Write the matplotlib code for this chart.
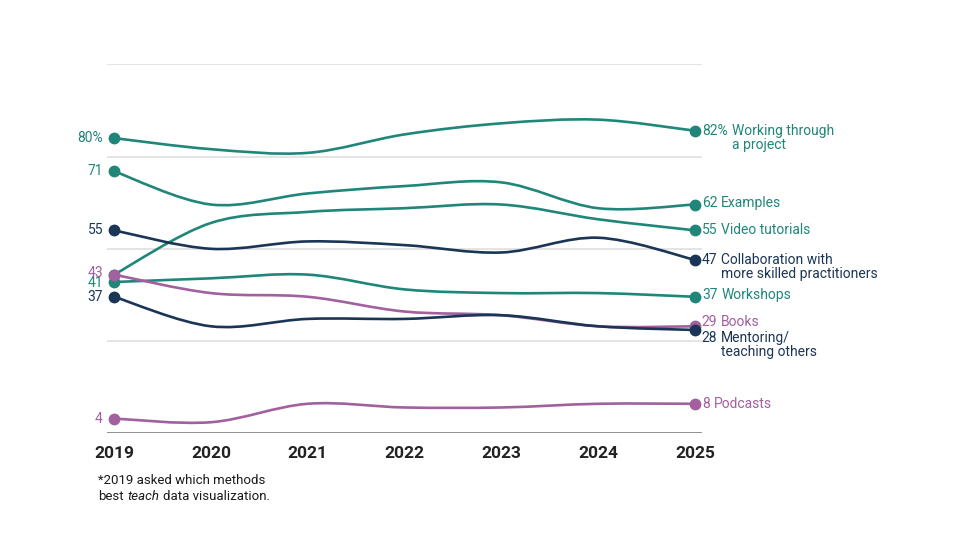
import numpy as np
import matplotlib.pyplot as plt
from matplotlib.path import Path
from matplotlib.patches import PathPatch

plt.rcParams['font.family'] = ['Roboto', 'DejaVu Sans']

years = [2019, 2020, 2021, 2022, 2023, 2024, 2025]

# share of respondents (%) per year
working = [80, 77, 76, 81, 84, 85, 82]
examples = [71, 62, 65, 67, 68, 61, 62]
video = [43, 57, 60, 61, 62, 58, 55]
collab = [55, 50, 52, 51, 49, 53, 47]
workshops = [41, 42, 43, 39, 38, 38, 37]
books = [43, 38, 37, 33, 32, 29, 29]
mentoring = [37, 29, 31, 31, 32, 29, 28]
podcasts = [4, 3, 8, 7, 7, 8, 8]

TEAL = '#21867a'
NAVY = '#1b3556'
PINK = '#a2609f'

# values, label, colour, left label shift (pt, None = no label), right label shift (pt)
series = [
    (working, 'Working through\na project', TEAL, 0, 0),
    (examples, 'Examples', TEAL, 0, 1),
    (video, 'Video tutorials', TEAL, None, 0),
    (workshops, 'Workshops', TEAL, -0.5, 1),
    (podcasts, 'Podcasts', PINK, 0, 0),
    (books, 'Books', PINK, 1, 3),
    (collab, 'Collaboration with\nmore skilled practitioners', NAVY, 0, 0),
    (mentoring, 'Mentoring/\nteaching others', NAVY, 0, -5.5),
]


def smooth_path(xs, ys):
    # Catmull-Rom curve through the yearly points, as cubic Bezier segments
    p = np.column_stack([xs, ys]).astype(float)
    pad = np.vstack([p[0], p, p[-1]])
    verts = [p[0]]
    codes = [Path.MOVETO]
    for i in range(len(p) - 1):
        p0, p1, p2, p3 = pad[i], pad[i + 1], pad[i + 2], pad[i + 3]
        verts += [p1 + (p2 - p0) / 6, p2 - (p3 - p1) / 6, p2]
        codes += [Path.CURVE4] * 3
    return Path(verts, codes)


fig = plt.figure(figsize=(9.6, 5.4), dpi=100)
ax = fig.add_axes([107.3 / 960, 1 - 433.3 / 540, (701.7 - 107.3) / 960, (433.3 - 64.3) / 540])
ax.set_xlim(2018.93, 2025.07)
ax.set_ylim(0, 100)

ax.set_yticks([0, 25, 50, 75, 100])
ax.set_yticklabels([])
ax.tick_params(axis='y', length=0)
ax.yaxis.grid(True, color='#dcdcdc', lw=1.1)
ax.set_axisbelow(True)
ax.axhline(0, color='#8a8a8a', lw=1.3, zorder=1)
for s in ax.spines.values():
    s.set_visible(False)

ax.set_xticks(years)
ax.set_xticklabels([str(y) for y in years], fontweight='bold', color='#222222')
ax.tick_params(axis='x', length=0, pad=9, labelsize=12.5)

fs = 10
for k, (vals, name, c, left, dy) in enumerate(series):
    z = 3 + k * 0.1
    ax.add_patch(PathPatch(smooth_path(years, vals), fill=False, edgecolor=c,
                           lw=1.9, capstyle='round', joinstyle='round', zorder=z))
    ax.plot([years[0], years[-1]], [vals[0], vals[-1]], 'o', color=c, ms=8.5,
            mew=0, zorder=z + 0.05)
    first = k == 0
    if left is not None:
        ax.annotate(f"{vals[0]}%" if first else f"{vals[0]}", xy=(years[0], vals[0]),
                    xytext=(-8, left), textcoords='offset points', ha='right', va='center',
                    color=c, fontsize=fs)
    num = ax.annotate(f"{vals[-1]}%" if first else f"{vals[-1]}", xy=(years[-1], vals[-1]),
                      xytext=(5, dy), textcoords='offset points', ha='left', va='center',
                      color=c, fontsize=fs)
    ax.annotate(name, xy=(1, 1), xycoords=num, xytext=(2.8, 0), textcoords='offset points',
                ha='left', va='top', color=c, fontsize=fs, linespacing=1.0)

note_c = '#1a1a1a'
fig.text(98 / 960, 1 - 481 / 540, '*2019 asked which methods', ha='left', va='center',
         fontsize=9.5, color=note_c)
t1 = fig.text(98 / 960, 1 - 497 / 540, 'best', ha='left', va='center', fontsize=9.5, color=note_c)
t2 = ax.annotate('teach', xy=(1, 0), xycoords=t1, xytext=(2.6, 0), textcoords='offset points',
                 ha='left', va='bottom', fontsize=9.5, style='italic', color=note_c)
ax.annotate('data visualization.', xy=(1, 0), xycoords=t2, xytext=(2.6, 0),
            textcoords='offset points', ha='left', va='bottom', fontsize=9.5, color=note_c)

fig.savefig('out.png', dpi=100)
